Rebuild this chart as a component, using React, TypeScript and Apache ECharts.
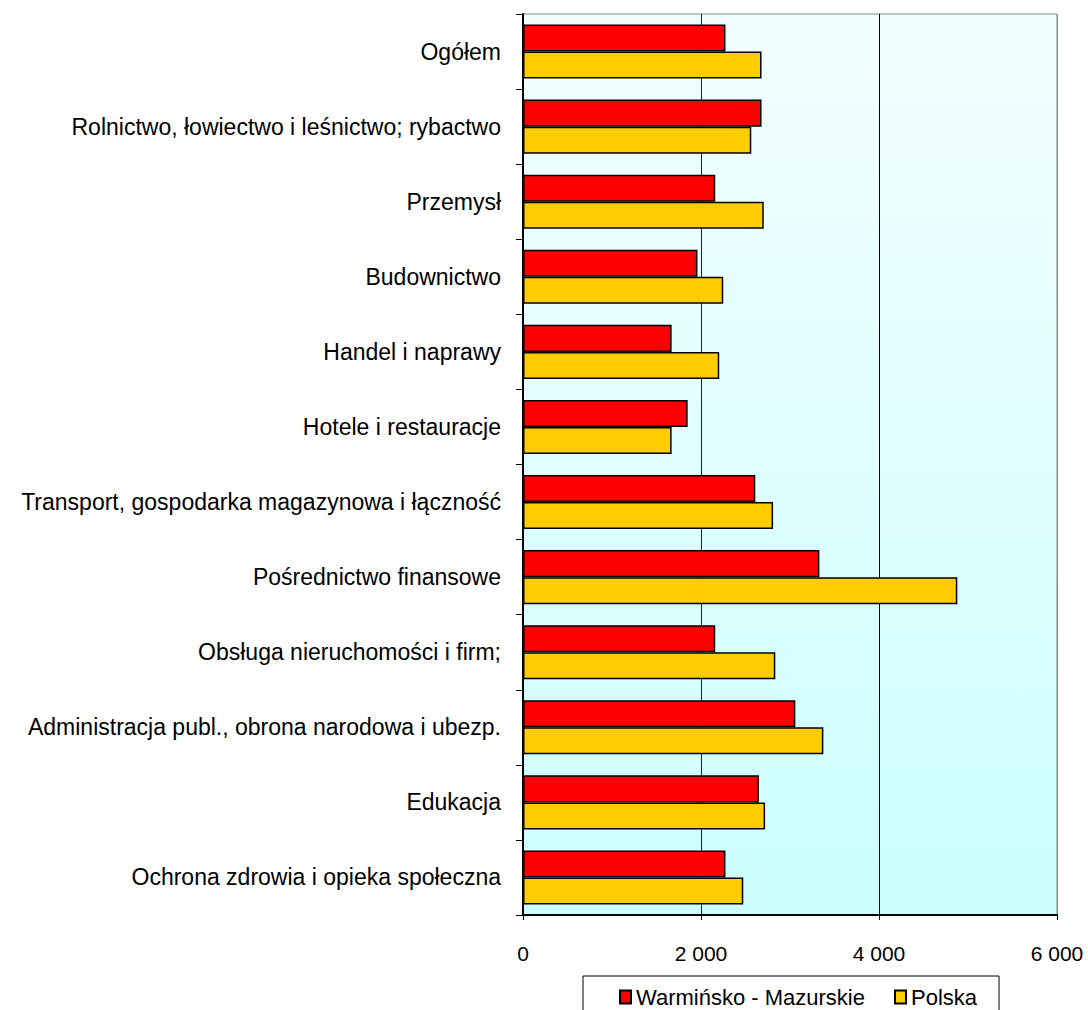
import React, { useEffect, useRef } from "react";
import * as echarts from "echarts";

const categories = [
  "Ogółem",
  "Rolnictwo, łowiectwo i leśnictwo; rybactwo",
  "Przemysł",
  "Budownictwo",
  "Handel i naprawy",
  "Hotele i restauracje",
  "Transport, gospodarka magazynowa i łączność",
  "Pośrednictwo finansowe",
  "Obsługa nieruchomości i firm;",
  "Administracja publ., obrona narodowa i ubezp.",
  "Edukacja",
  "Ochrona zdrowia i opieka społeczna",
];

const warminskoMazurskie = [2275, 2680, 2160, 1960, 1670, 1850, 2610, 3330, 2160, 3060, 2650, 2275];
const polska = [2680, 2565, 2705, 2250, 2205, 1670, 2810, 4880, 2835, 3375, 2720, 2475];

const seriesNames = ["Warmińsko - Mazurskie", "Polska"];
const xTicks = { min: 0, max: 6000, interval: 2000 };

const FONT = "'Liberation Sans', Arial, sans-serif";

export default function App() {
  const ref = useRef<HTMLDivElement>(null);

  useEffect(() => {
    document.body.style.margin = "0";
    if (!ref.current) return;
    const chart = echarts.init(ref.current, undefined, { renderer: "svg" });
    chart.setOption({
      animation: false,
      backgroundColor: "#ffffff",
      textStyle: { fontFamily: FONT, color: "#000" },
      grid: {
        left: 523,
        right: 31,
        top: 14,
        bottom: 95,
        containLabel: false,
        show: true,
        borderColor: "#888888",
        borderWidth: 1,
        backgroundColor: {
          type: "linear",
          x: 0,
          y: 0,
          x2: 0,
          y2: 1,
          colorStops: [
            { offset: 0, color: "#f3ffff" },
            { offset: 1, color: "#ccffff" },
          ],
        },
      },
      legend: {
        data: seriesNames,
        left: 583,
        top: 976,
        orient: "horizontal",
        itemWidth: 11,
        itemHeight: 13,
        itemGap: 29,
        icon: "rect",
        padding: [10, 22, 30, 36],
        borderColor: "#000",
        borderWidth: 1,
        backgroundColor: "#fff",
        textStyle: { fontFamily: FONT, fontSize: 22, color: "#000" },
      },
      xAxis: {
        type: "value",
        min: xTicks.min,
        max: xTicks.max,
        interval: xTicks.interval,
        axisLine: { show: true, lineStyle: { color: "#000", width: 2 } },
        axisTick: { show: true, inside: false, length: 5, lineStyle: { color: "#000", width: 1 } },
        axisLabel: {
          fontFamily: FONT,
          fontSize: 21,
          color: "#000",
          margin: 28,
          formatter: (v: number) => {
            if (v === 0) return "0";
            const s = String(v);
            return s.slice(0, s.length - 3) + " " + s.slice(s.length - 3);
          },
        },
        splitLine: {
          show: true,
          lineStyle: { color: ["#000", "#222", "#000", "#888"], width: 1 },
        },
      },
      yAxis: {
        type: "category",
        data: categories,
        inverse: true,
        axisLine: { show: true, lineStyle: { color: "#000", width: 2 } },
        axisTick: { show: true, inside: false, length: 7, lineStyle: { color: "#000", width: 1 } },
        axisLabel: {
          fontFamily: FONT,
          fontSize: 23,
          color: "#000",
          margin: 22,
          padding: [6, 0, 0, 0],
        },
        splitLine: { show: false },
      },
      series: [
        {
          name: seriesNames[0],
          type: "bar",
          data: warminskoMazurskie,
          barGap: "0%",
          barCategoryGap: "28%",
          itemStyle: { color: "#ff0000", borderColor: "#000", borderWidth: 1.5 },
        },
        {
          name: seriesNames[1],
          type: "bar",
          data: polska,
          barGap: "0%",
          barCategoryGap: "28%",
          itemStyle: { color: "#ffcc00", borderColor: "#000", borderWidth: 1.5 },
        },
      ],
    });
    return () => chart.dispose();
  }, []);

  return <div ref={ref} style={{ width: 1088, height: 1010 }} />;
}
